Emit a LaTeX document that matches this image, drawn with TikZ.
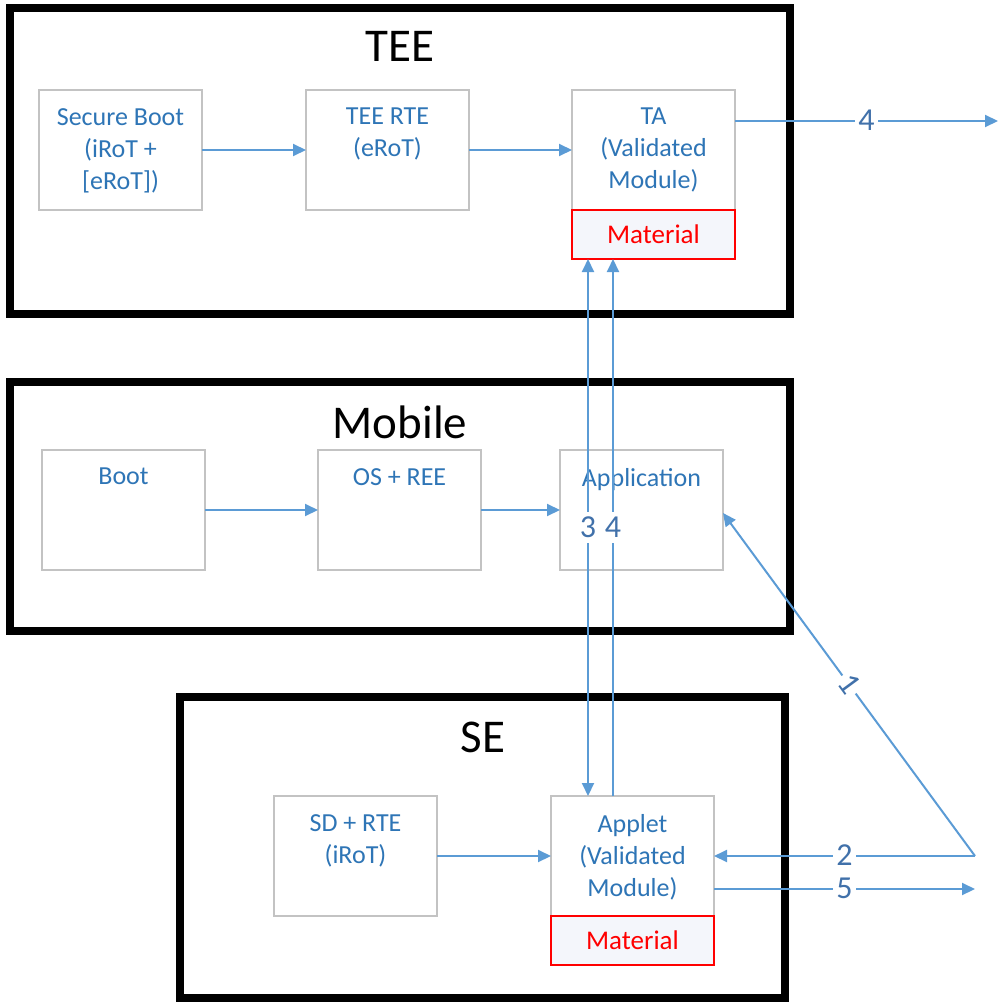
\documentclass[tikz,border=0pt]{standalone}
\usepackage{fontspec}
\setmainfont{Carlito}
\usetikzlibrary{arrows.meta,calc}
\definecolor{lineblue}{RGB}{91,155,213}
\definecolor{txtblue}{RGB}{46,117,182}
\definecolor{numblue}{RGB}{65,113,170}
\definecolor{boxgray}{RGB}{195,195,195}
\definecolor{matred}{RGB}{255,0,0}
\definecolor{matfill}{RGB}{244,246,251}

\begin{document}
\begin{tikzpicture}[x=1pt,y=-1pt,
  container/.style={draw=black, line width=8pt, anchor=north west, inner sep=0pt, outer sep=0pt},
  title/.style={font=\fontsize{47}{56}\selectfont},
  module/.style={draw=boxgray, line width=1.5pt, fill=white, anchor=north west,
    minimum width=163pt, minimum height=120pt, inner sep=0pt, outer sep=0pt},
  modtext/.style={font=\fontsize{26}{32}\selectfont, text=txtblue, align=center,
    inner sep=0pt, anchor=north},
  material/.style={draw=matred, line width=1.5pt, anchor=north west,
    minimum width=163pt, minimum height=49pt, inner sep=0pt, outer sep=0pt,
    fill=matfill, text=matred, font=\fontsize{27}{30}\selectfont},
  flow/.style={draw=lineblue, line width=2pt, -{Triangle[length=13pt,width=12pt]}},
  num/.style={font=\fontsize{32}{36}\selectfont, text=numblue, fill=white,
    inner xsep=3pt, inner ysep=4pt, text height=21pt, text depth=2pt},
]
\useasboundingbox (0,0) rectangle (998,1003);

% containers
\node[container, minimum width=780pt, minimum height=306pt] (tee) at (10,8) {};
\node[container, minimum width=780pt, minimum height=249pt] (mob) at (10,382) {};
\node[container, minimum width=605pt, minimum height=301pt] (se) at (180,697) {};
\node[title] (teetitle) at (400,46) {TEE};
\node[title] (mobtitle) at (400,422) {Mobile};
\node[title] (setitle) at (483,737) {SE};

% TEE modules
\node[module] (sb) at (39,90) {};
\node[modtext] (sbtext) at ($(sb.north)+(0,18)$) {Secure Boot\\(iRoT +\\{[eRoT]})};
\node[module] (rte) at (306,90) {};
\node[modtext] (rtetext) at ($(rte.north)+(0,18)$) {TEE RTE\\(eRoT)};
\node[module] (ta) at (572,90) {};
\node[modtext] (tatext) at ($(ta.north)+(0,18)$) {TA\\(Validated\\Module)};
\node[material] (tamat) at (572,210) {Material};

% Mobile modules
\node[module] (boot) at (42,450) {};
\node[modtext] (boottext) at ($(boot.north)+(0,18)$) {Boot};
\node[module] (os) at (318,450) {};
\node[modtext] (ostext) at ($(os.north)+(0,18)$) {OS + REE};
\node[module] (app) at (560,450) {};
\node[modtext] (apptext) at ($(app.north)+(0,18)$) {Application};

% SE modules
\node[module] (sd) at (274,796) {};
\node[modtext] (sdtext) at ($(sd.north)+(0,18)$) {SD + RTE\\(iRoT)};
\node[module] (applet) at (551,796) {};
\node[modtext] (applettext) at ($(applet.north)+(0,18)$) {Applet\\(Validated\\Module)};
\node[material] (appletmat) at (551,916) {Material};

% boot chains
\draw[flow] (sb) -- (rte);
\draw[flow] (rte) -- (ta);
\draw[flow] (boot) -- (os);
\draw[flow] (os) -- (app);
\draw[flow] (sd) -- (applet);

% external connectors
\coordinate (out4) at (998,121);
\coordinate (ext) at (975,856);
\coordinate (out5) at (975,889);
\coordinate (x3) at (588,0);
\coordinate (x4) at (613,0);

\draw[flow] ($(ta.north east)+(0,31)$) -- node[num, pos=0.5] {4} (out4);
\draw[flow] (ext) -- node[num, pos=0.5] {2} (applet.east);
\draw[flow] ($(applet.north east)+(0,93)$) -- node[num, pos=0.5] {5} (out5);
\draw[flow] (ext) -- node[num, pos=0.5, sloped] {1} ($(app.north east)+(0,63)$);

\draw[draw=lineblue, line width=2pt, {Triangle[length=13pt,width=12pt]}-{Triangle[length=13pt,width=12pt]}]
  (x3 |- applet.north) -- node[num, pos=0.5] {3} (x3 |- tamat.south);
\draw[flow] (x4 |- applet.north) -- node[num, pos=0.5] {4} (x4 |- tamat.south);
\end{tikzpicture}
\end{document}
